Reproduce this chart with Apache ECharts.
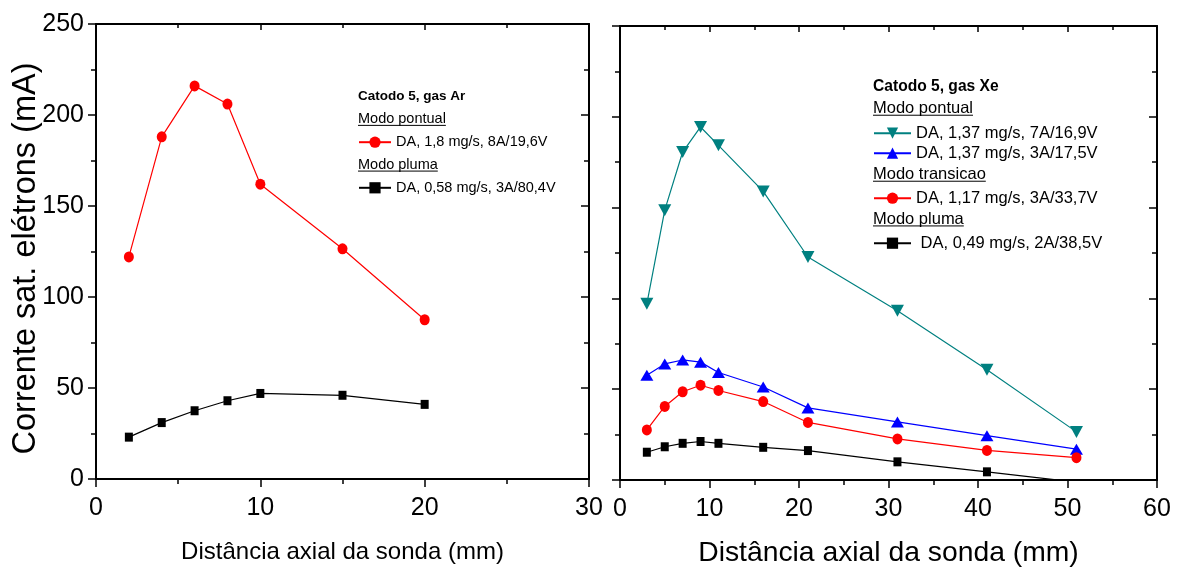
<!DOCTYPE html>
<html>
<head>
<meta charset="utf-8">
<script src="https://cdn.jsdelivr.net/npm/echarts@6/dist/echarts.min.js"></script>
<style>
  html, body { margin: 0; padding: 0; background: #fff; }
  #chart { width: 1179px; height: 575px; }
</style>
</head>
<body>
<div id="chart"></div>
<script>
// Data
const arX = [2, 4, 6, 8, 10, 15, 20];
const arPontual = [122, 188, 216, 206, 162, 126.5, 87.5];
const arPluma = [23, 31, 37.5, 43, 47, 46, 41];

const xeX = [3, 5, 7, 9, 11, 16, 21, 31, 41, 51];
const xe7A = [97, 148.6, 180.6, 194.4, 184.3, 158.9, 122.8, 93.2, 60.7, 26.5];
const xe3A = [57.7, 63.9, 66.1, 64.9, 59.2, 51.2, 39.7, 32, 24.4, 17];
const xeTrans = [27.6, 40.5, 48.6, 52.2, 49.3, 43.2, 31.7, 22.6, 16.3, 12.3];
const xePluma = [15.3, 18.3, 20.2, 21.2, 20.2, 18, 16.2, 10, 4.5, -1.2];

const arNames = ['DA, 1,8 mg/s, 8A/19,6V', 'DA, 0,58 mg/s, 3A/80,4V'];
const xeNames = ['DA, 1,37 mg/s, 7A/16,9V', 'DA, 1,37 mg/s, 3A/17,5V',
                 'DA, 1,17 mg/s, 3A/33,7V', ' DA, 0,49 mg/s, 2A/38,5V'];

const yTicks = [0, 50, 100, 150, 200, 250];
const xLeftTicks = [0, 10, 20, 30];
const xRightTicks = [0, 10, 20, 30, 40, 50, 60];
const xTitle = 'Distância axial da sonda (mm)';
const yTitle = 'Corrente sat. elétrons (mA)';

const SANS = "'Liberation Sans', Arial, sans-serif";

const zip = (xs, ys) => xs.map((x, i) => [x, ys[i]]);

// measure text for the underlines of the legend headings
const ctx = document.createElement('canvas').getContext('2d');
function textWidth(txt, font) {
    ctx.font = font;
    return ctx.measureText(txt).width;
}

function heading(txt, x, y, size, bold, underline) {
    const font = (bold ? 'bold ' : '') + size + 'px ' + SANS;
    const els = [{
        type: 'text', x: x, y: y, silent: true,
        style: { text: txt, font: font, fill: '#000', verticalAlign: 'middle' }
    }];
    if (underline) {
        const w = textWidth(txt, font);
        const uy = y + size * 0.42;
        els.push({
            type: 'line', silent: true,
            shape: { x1: x, y1: uy, x2: x + w, y2: uy },
            style: { stroke: '#000', lineWidth: 1 }
        });
    }
    return els;
}

function legendItem(name, x, cy, size, iconW) {
    return {
        data: [name], left: x, top: cy - 7,
        orient: 'vertical', padding: 0,
        itemWidth: iconW, itemHeight: 14, itemGap: 0,
        selectedMode: false,
        textStyle: { fontSize: size, fontFamily: SANS, color: '#000' }
    };
}

const axisLine = { show: true, onZero: false, lineStyle: { color: '#000', width: 2 } };

function xBottom(grid, max, ticks, nameSize, nameGap) {
    return {
        type: 'value', gridIndex: grid, position: 'bottom',
        min: 0, max: max, interval: 10,
        axisLine: axisLine,
        axisTick: { show: true, inside: false, length: 8, lineStyle: { color: '#000', width: 1.5 } },
        minorTick: { show: true, splitNumber: 2, length: 5, lineStyle: { color: '#000', width: 1.5 } },
        splitLine: { show: false },
        axisLabel: {
            color: '#000', fontSize: 25, fontFamily: SANS, margin: 17,
            formatter: v => ticks.includes(v) ? String(v) : ''
        },
        name: xTitle, nameLocation: 'middle', nameGap: nameGap,
        nameTextStyle: { color: '#000', fontSize: nameSize, fontFamily: SANS }
    };
}

function xTop(grid, max) {
    return {
        type: 'value', gridIndex: grid, position: 'top',
        min: 0, max: max, interval: 10,
        axisLine: axisLine,
        axisTick: { show: true, inside: true, length: 6, lineStyle: { color: '#000', width: 1.5 } },
        minorTick: { show: true, splitNumber: 2, length: 4, lineStyle: { color: '#000', width: 1.5 } },
        splitLine: { show: false },
        axisLabel: { show: false }
    };
}

function yAxis(grid, pos, labels, inside) {
    const ax = {
        type: 'value', gridIndex: grid, position: pos,
        min: 0, max: 250, interval: 50,
        axisLine: axisLine,
        axisTick: { show: true, inside: inside, length: 8, lineStyle: { color: '#000', width: 1.5 } },
        minorTick: { show: true, splitNumber: 2, length: 5, lineStyle: { color: '#000', width: 1.5 } },
        splitLine: { show: false },
        axisLabel: { show: labels, color: '#000', fontSize: 25, fontFamily: SANS, margin: 12,
            formatter: v => yTicks.includes(v) ? String(v) : '' }
    };
    if (labels) {
        ax.name = yTitle;
        ax.nameLocation = 'middle';
        ax.nameGap = 53;
        ax.nameMoveOverlap = false;
        ax.nameTextStyle = { color: '#000', fontSize: 32.5, fontFamily: SANS, padding: [0, 14, 0, 0] };
    }
    return ax;
}

function lineSeries(name, data, color, symbol, size, xi, yi) {
    return {
        type: 'line', name: name, data: data,
        xAxisIndex: xi, yAxisIndex: yi,
        symbol: symbol, symbolSize: size, showAllSymbol: true,
        lineStyle: { color: color, width: 1.2 },
        itemStyle: { color: color },
        emphasis: { disabled: true },
        animation: false, z: 3
    };
}

const chart = echarts.init(document.getElementById('chart'), null, { renderer: 'canvas' });

const option = {
    backgroundColor: '#fff',
    animation: false,
    grid: [
        { left: 96, top: 24, width: 493, height: 455 },
        { left: 620, top: 26, width: 537, height: 454 }
    ],
    xAxis: [
        xBottom(0, 30, xLeftTicks, 24, 61),
        xTop(0, 30),
        xBottom(1, 60, xRightTicks, 28.3, 59),
        xTop(1, 60)
    ],
    yAxis: [
        yAxis(0, 'left', true, false),
        yAxis(0, 'right', false, true),
        yAxis(1, 'left', false, false),
        yAxis(1, 'right', false, true)
    ],
    legend: [
        legendItem(arNames[0], 358, 141.7, 14.5, 32),
        legendItem(arNames[1], 358, 187.3, 14.5, 32),
        legendItem(xeNames[0], 873, 131.7, 16.5, 37),
        legendItem(xeNames[1], 873, 151.7, 16.5, 37),
        legendItem(xeNames[2], 873, 196.7, 16.5, 37),
        legendItem(xeNames[3], 873, 241.7, 16.5, 37)
    ],
    graphic: [
        ...heading('Catodo 5, gas Ar', 358, 96.7, 13.5, true, false),
        ...heading('Modo pontual', 358, 119.3, 14.5, false, true),
        ...heading('Modo pluma', 358, 165, 14.5, false, true),
        ...heading('Catodo 5, gas Xe', 873, 86.7, 15.6, true, false),
        ...heading('Modo pontual', 873, 108.3, 16.5, false, true),
        ...heading('Modo transicao', 873, 174.3, 16.5, false, true),
        ...heading('Modo pluma', 873, 219, 16.5, false, true)
    ],
    series: [
        lineSeries(arNames[0], zip(arX, arPontual), '#ff0000', 'circle', [10, 11], 0, 0),
        lineSeries(arNames[1], zip(arX, arPluma), '#000000', 'rect', [8, 9], 0, 0),
        lineSeries(xeNames[0], zip(xeX, xe7A), '#008080', 'triangle', [13, 12], 2, 2),
        lineSeries(xeNames[1], zip(xeX, xe3A), '#0000ff', 'triangle', [13, 11], 2, 2),
        lineSeries(xeNames[2], zip(xeX, xeTrans), '#ff0000', 'circle', [10, 11], 2, 2),
        lineSeries(xeNames[3], zip(xeX, xePluma), '#000000', 'rect', [8, 9], 2, 2)
    ]
};
// downward triangle for the 7A series
option.series[2].symbolRotate = 180;

chart.setOption(option);
</script>
</body>
</html>
